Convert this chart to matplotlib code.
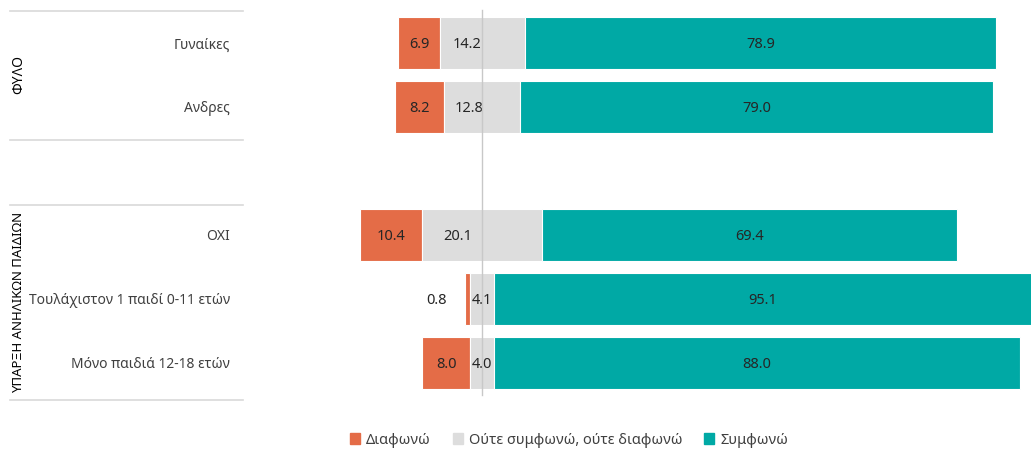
import matplotlib.pyplot as plt
from matplotlib.patches import Patch
from matplotlib.transforms import blended_transform_factory

plt.rcParams['font.family'] = ['Noto Sans', 'DejaVu Sans']

categories = ['Γυναίκες', 'Ανδρες', 'ΟΧΙ', 'Τουλάχιστον 1 παιδί 0-11 ετών', 'Μόνο παιδιά 12-18 ετών']
rows = [0, 1, 3, 4, 5]
disagree = [6.9, 8.2, 10.4, 0.8, 8.0]
neutral = [14.2, 12.8, 20.1, 4.1, 4.0]
agree = [78.9, 79.0, 69.4, 95.1, 88.0]
groups = ['ΦΥΛΟ', 'ΥΠΑΡΞΗ ΑΝΗΛΙΚΩΝ ΠΑΙΔΙΩΝ']
legend_labels = ['Διαφωνώ', 'Ούτε συμφωνώ, ούτε διαφωνώ', 'Συμφωνώ']

c_dis = '#E46C47'
c_neu = '#DDDDDD'
c_agr = '#00A9A5'

fig = plt.figure(figsize=(10.31, 4.5), dpi=100)
ax = fig.add_axes([243 / 1031, 1 - 400 / 450, 788 / 1031, 389 / 450])
xmin, xmax = -40, 91.8
ax.set_xlim(xmin, xmax)
ax.set_ylim(5.58, -0.5)
ax.axis('off')

h = 0.81
lab = dict(va='center_baseline', fontsize=10.5, color='#262626')
for y, d, n, a in zip(rows, disagree, neutral, agree):
    left_n = -n / 2
    left_d = left_n - d
    ax.barh(y, d, left=left_d, height=h, color=c_dis, edgecolor='white', linewidth=0.8)
    ax.barh(y, n, left=left_n, height=h, color=c_neu, edgecolor='white', linewidth=0.8)
    ax.barh(y, a, left=n / 2, height=h, color=c_agr, edgecolor='white', linewidth=0.8)

    # values on the bars
    if d < 3:
        ax.text(left_d - 3, y, f'{d:.1f}', ha='right', **lab)
    else:
        ax.text(left_d + d / 2, y, f'{d:.1f}', ha='center', **lab)
    ax.text(-n / 4 + 1, y, f'{n:.1f}', ha='center', **lab)
    right = min(n / 2 + a, xmax)
    ax.text((n / 2 + right) / 2, y, f'{a:.1f}', ha='center', **lab)

# zero line
ax.plot([0, 0], [-0.52, 5.5], color='#C8C8C8', linewidth=1, zorder=5, clip_on=False)

# category labels and group separators on the left
tr = blended_transform_factory(ax.transAxes, ax.transData)
x_lab = -13 / 788
for y, c in zip(rows, categories):
    ax.text(x_lab, y, c, transform=tr, ha='right', va='center_baseline', fontsize=10, color='#404040')

x_line0 = -(243 - 10) / 788
for yl in [-0.5, 1.52, 2.53, 5.58]:
    ax.plot([x_line0, 0], [yl, yl], transform=tr, color='#D9D9D9', linewidth=1.2, clip_on=False)

x_grp = -(243 - 19) / 788
ax.text(x_grp, 0.5, groups[0], transform=tr, rotation=90, ha='center', va='center', fontsize=10, color='#000000')
ax.text(x_grp, 4.05, groups[1], transform=tr, rotation=90, ha='center', va='center', fontsize=9.5, color='#000000')

handles = [Patch(color=c_dis), Patch(color=c_neu), Patch(color=c_agr)]
fig.legend(handles, legend_labels, loc='center', bbox_to_anchor=(569 / 1031, 1 - 440 / 450), ncol=3,
           frameon=False, handlelength=0.7, handleheight=0.7, handletextpad=0.4, columnspacing=1.5,
           fontsize=10.5, labelcolor='#404040')

fig.savefig('out.png', dpi=100)
